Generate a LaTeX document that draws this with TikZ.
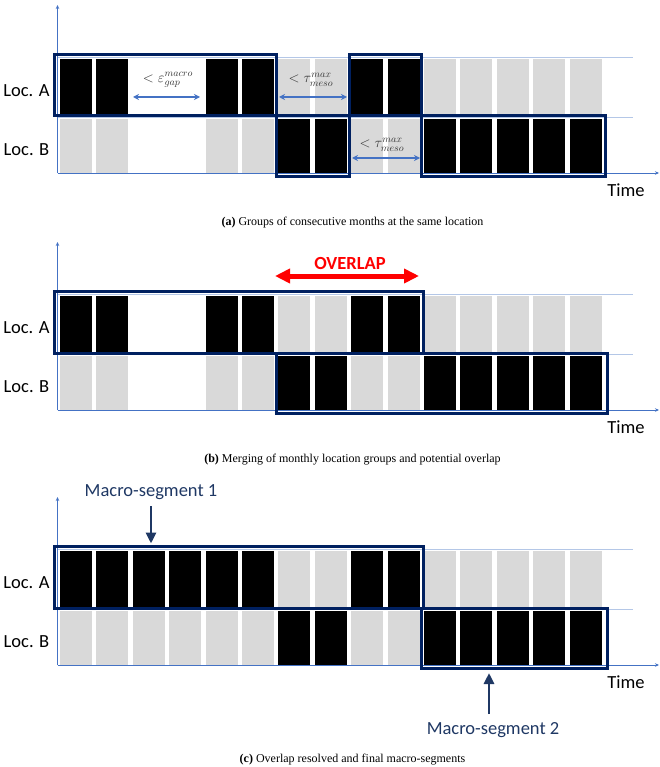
\documentclass[tikz,border=0pt]{standalone}
\usepackage{fontspec}
\setmainfont{Liberation Serif}
\newfontfamily\calib{Carlito}
\usetikzlibrary{arrows.meta}
\definecolor{navy}{HTML}{002060}
\definecolor{navytxt}{HTML}{1F3864}
\definecolor{axisblue}{HTML}{4472C4}
\definecolor{rowblue}{HTML}{B4C7E7}
\definecolor{barG}{HTML}{D9D9D9}
\definecolor{ovred}{HTML}{FF0000}
\tikzset{
  groupbox/.style={draw=navy, line width=3pt},
  rowline/.style={draw=rowblue, line width=0.8pt},
  axisline/.style={draw=axisblue, line width=0.7pt, -{Stealth[length=4pt,width=3.5pt]}},
  gaparrow/.style={draw=axisblue, line width=1.4pt, {Stealth[length=6pt,width=6pt]}-{Stealth[length=6pt,width=6pt]}},
  lbl/.style={font=\calib\fontsize{18.5}{20}\selectfont, inner sep=0pt},
  mathlbl/.style={font=\fontsize{14}{16}\selectfont, text=black!80, inner sep=0pt},
  capt/.style={font=\fontsize{12}{14}\selectfont, inner sep=0pt},
  segarrow/.style={draw=navytxt, line width=2.8pt, -{Triangle[length=11pt,width=10pt]}},
}
\newcommand\drawpanel[3]{%
  \draw[rowline] (57.5,57) -- (633,57);
  \draw[rowline] (57.5,117) -- (633,117);
  \foreach \c [count=\i from 0] in {#1} \fill[\c] ({60+36.4*\i},59) rectangle +(32,55.5);
  \foreach \c [count=\i from 0] in {#2} \fill[\c] ({60+36.4*\i},119) rectangle +(32,54);
  \draw[axisline] (57.5,173) -- (659,173);
  \draw[axisline] (57.5,173) -- (57.5,5);
  \node[lbl] (locA#3) at (26.5,91) {Loc. A};
  \node[lbl] (locB#3) at (26.5,149.5) {Loc. B};
  \node[lbl] (time#3) at (626,190) {Time};
}
\begin{document}
\begin{tikzpicture}[x=1pt,y=-1pt]
\useasboundingbox (0,0) rectangle (660,767);
% ---------- panel (a)
\begin{scope}
  \drawpanel{black,black,white,white,black,black,barG,barG,black,black,barG,barG,barG,barG,barG}
            {barG,barG,white,white,barG,barG,black,black,barG,barG,black,black,black,black,black}{a}
  \draw[groupbox] (54.5,54.5) rectangle (276.5,116);
  \draw[groupbox] (276.5,116) rectangle (349,176.5);
  \draw[groupbox] (349.5,54.5) rectangle (421.5,116);
  \draw[groupbox] (421.5,116) rectangle (605.5,176.5);
  \coordinate (e1) at (133,97); \coordinate (e2) at (200,97);
  \coordinate (t1) at (279,97); \coordinate (t2) at (347,97);
  \coordinate (u1) at (352,158); \coordinate (u2) at (420,158);
  \draw[gaparrow] (e1) -- (e2);
  \draw[gaparrow] (t1) -- (t2);
  \draw[gaparrow] (u1) -- (u2);
  \node[mathlbl] (eps) at (168,80) {$<\varepsilon^{macro}_{gap}$};
  \node[mathlbl] (tauA) at (311,80) {$<\tau^{max}_{meso}$};
  \node[mathlbl] (tauB) at (382,145) {$<\tau^{max}_{meso}$};
\end{scope}
\node[capt] (capa) at (352.5,223) {\textbf{(a)} Groups of consecutive months at the same location};
% ---------- panel (b)
\begin{scope}[shift={(0,237)}]
  \drawpanel{black,black,white,white,black,black,barG,barG,black,black,barG,barG,barG,barG,barG}
            {barG,barG,white,white,barG,barG,black,black,barG,barG,black,black,black,black,black}{b}
  \draw[groupbox] (54.5,54.5) rectangle (423.5,116);
  \draw[groupbox] (276.5,116) rectangle (607.5,176.5);
  \coordinate (o1) at (275,39); \coordinate (o2) at (419,39);
  \draw[draw=ovred, line width=5pt, {Triangle[length=15pt,width=14pt]}-{Triangle[length=15pt,width=14pt]}] (o1) -- (o2);
  \node[lbl, font=\calib\bfseries\fontsize{18.5}{20}\selectfont, text=ovred] (ovl) at (350,26) {OVERLAP};
\end{scope}
\node[capt] (capb) at (352.5,460) {\textbf{(b)} Merging of monthly location groups and potential overlap};
% ---------- panel (c)
\begin{scope}[shift={(0,492)}]
  \drawpanel{black,black,black,black,black,black,barG,barG,black,black,barG,barG,barG,barG,barG}
            {barG,barG,barG,barG,barG,barG,black,black,barG,barG,black,black,black,black,black}{c}
  \draw[groupbox] (54.5,54.5) rectangle (423.5,116);
  \draw[groupbox] (421,116) rectangle (607.5,176.5);
  \node[lbl, text=navytxt] (ms1) at (151,0.5) {Macro-segment 1};
  \coordinate (m1) at (151,51.5);
  \draw[segarrow] (ms1.south |- 0,14) -- (m1);
  \node[lbl, text=navytxt] (ms2) at (493,238) {Macro-segment 2};
  \coordinate (m2) at (489,181);
  \draw[segarrow] (489,222) -- (m2);
\end{scope}
\node[capt] (capc) at (352.5,760) {\textbf{(c)} Overlap resolved and final macro-segments};
\end{tikzpicture}
\end{document}
